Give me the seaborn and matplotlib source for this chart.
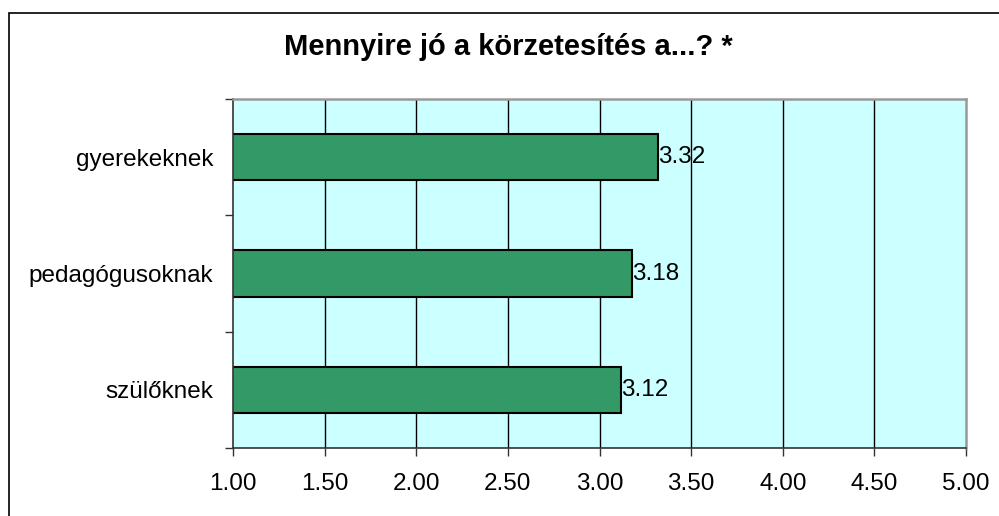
import numpy as np
import pandas as pd
import matplotlib
matplotlib.use('Agg')
import matplotlib.pyplot as plt
import seaborn as sns
from matplotlib.patches import Rectangle

# Chart data
categories = ['gyerekeknek', 'pedagógusoknak', 'szülőknek']
values = [3.32, 3.18, 3.12]
x_ticks = [1.0, 1.5, 2.0, 2.5, 3.0, 3.5, 4.0, 4.5, 5.0]
title = 'Mennyire jó a körzetesítés a...? *'

df = pd.DataFrame({'group': categories, 'score': values})

sns.set_style('white')
plt.rcParams['font.family'] = ['Liberation Sans', 'DejaVu Sans']
plt.rcParams['text.color'] = 'black'
plt.rcParams['xtick.color'] = 'black'
plt.rcParams['ytick.color'] = 'black'

fig = plt.figure(figsize=(9.99, 5.16), dpi=100)
ax = fig.add_axes([233 / 999, 1 - 448 / 516, (966 - 233) / 999, (448 - 99) / 516])
ax.set_facecolor('#CCFFFF')

# vertical grid lines behind the bars
for xv in x_ticks[1:-1]:
    ax.axvline(xv, color='black', lw=1, zorder=0)

sns.barplot(data=df, x='score', y='group', orient='h', color='#339966',
            edgecolor='black', linewidth=1.5, width=0.4, saturation=1,
            ax=ax, zorder=2)

for i, v in enumerate(values):
    ax.text(v, i, f'{v:.2f}', ha='left', va='center', fontsize=17.5,
            color='black', zorder=3)

ax.set_xlim(1, 5)
ax.set_ylim(2.5, -0.5)
ax.set_xticks(x_ticks)
ax.set_xticklabels([f'{t:.2f}' for t in x_ticks])
ax.set_xlabel('')
ax.set_ylabel('')

ax.tick_params(axis='x', direction='out', length=6, width=1, color='#333333',
               labelsize=17.5, labelcolor='black', pad=12, bottom=True)
ax.tick_params(axis='y', which='major', length=0, labelsize=17.5,
               labelcolor='black', pad=14)
ax.set_yticks([-0.5, 0.5, 1.5, 2.5], minor=True)
ax.tick_params(axis='y', which='minor', direction='out', length=6, width=1,
               color='#333333', left=True)

for side in ['left', 'bottom']:
    ax.spines[side].set_color('#333333')
    ax.spines[side].set_linewidth(1.2)
for side in ['top', 'right']:
    ax.spines[side].set_visible(True)
    ax.spines[side].set_color('#999999')
    ax.spines[side].set_linewidth(1.8)

fig.text(508 / 999, 1 - 47 / 516, title, ha='center', va='center',
         fontsize=21, fontweight='bold', color='black')

# chart border (only left and top edges fall inside the image)
fig.patches.append(Rectangle((9 / 999, -0.2), 1.2, 1.2 - 13 / 516,
                             transform=fig.transFigure, fill=False,
                             edgecolor='black', lw=1.2))

fig.savefig('out.png', dpi=100)
